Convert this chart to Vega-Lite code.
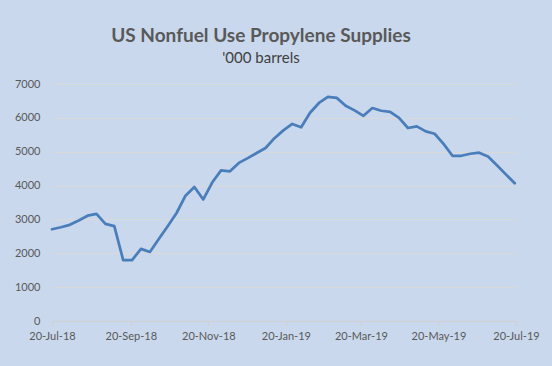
{
  "$schema": "https://vega.github.io/schema/vega-lite/v6.json",
  "width": 464,
  "height": 237,
  "autosize": {"type": "none"},
  "padding": {"left": 52, "top": 84, "right": 36, "bottom": 45},
  "background": "#c9d8ec",
  "title": {
    "text": "US Nonfuel Use Propylene Supplies",
    "subtitle": "'000 barrels",
    "anchor": "middle",
    "dx": -23,
    "offset": 12,
    "font": "Lato",
    "fontSize": 19,
    "fontWeight": "bold",
    "color": "#595959",
    "subtitleFont": "Lato",
    "subtitleFontSize": 15,
    "subtitleColor": "#404040",
    "subtitlePadding": 5
  },
  "data": {
    "values": [
      {"date": "2018-07-20", "v": 2710},
      {"date": "2018-07-27", "v": 2770},
      {"date": "2018-08-03", "v": 2840},
      {"date": "2018-08-10", "v": 2970},
      {"date": "2018-08-17", "v": 3110},
      {"date": "2018-08-24", "v": 3165},
      {"date": "2018-08-31", "v": 2870},
      {"date": "2018-09-07", "v": 2800},
      {"date": "2018-09-14", "v": 1800},
      {"date": "2018-09-21", "v": 1800},
      {"date": "2018-09-28", "v": 2130},
      {"date": "2018-10-05", "v": 2040},
      {"date": "2018-10-12", "v": 2420},
      {"date": "2018-10-19", "v": 2800},
      {"date": "2018-10-26", "v": 3190},
      {"date": "2018-11-02", "v": 3700},
      {"date": "2018-11-09", "v": 3960},
      {"date": "2018-11-16", "v": 3590},
      {"date": "2018-11-23", "v": 4090},
      {"date": "2018-11-30", "v": 4450},
      {"date": "2018-12-07", "v": 4420},
      {"date": "2018-12-14", "v": 4670},
      {"date": "2018-12-21", "v": 4810},
      {"date": "2018-12-28", "v": 4960},
      {"date": "2019-01-04", "v": 5110},
      {"date": "2019-01-11", "v": 5400},
      {"date": "2019-01-18", "v": 5630},
      {"date": "2019-01-25", "v": 5820},
      {"date": "2019-02-01", "v": 5720},
      {"date": "2019-02-08", "v": 6150},
      {"date": "2019-02-15", "v": 6440},
      {"date": "2019-02-22", "v": 6620},
      {"date": "2019-03-01", "v": 6590},
      {"date": "2019-03-08", "v": 6360},
      {"date": "2019-03-15", "v": 6220},
      {"date": "2019-03-22", "v": 6060},
      {"date": "2019-03-29", "v": 6290},
      {"date": "2019-04-05", "v": 6210},
      {"date": "2019-04-12", "v": 6180},
      {"date": "2019-04-19", "v": 6000},
      {"date": "2019-04-26", "v": 5700},
      {"date": "2019-05-03", "v": 5750},
      {"date": "2019-05-10", "v": 5600},
      {"date": "2019-05-17", "v": 5530},
      {"date": "2019-05-24", "v": 5230},
      {"date": "2019-05-31", "v": 4880},
      {"date": "2019-06-07", "v": 4880},
      {"date": "2019-06-14", "v": 4940},
      {"date": "2019-06-21", "v": 4970},
      {"date": "2019-06-28", "v": 4860},
      {"date": "2019-07-05", "v": 4600},
      {"date": "2019-07-12", "v": 4330},
      {"date": "2019-07-19", "v": 4070}
    ]
  },
  "mark": {"type": "line", "color": "#4a7ebb", "strokeWidth": 2.75, "strokeJoin": "round", "strokeCap": "round"},
  "encoding": {
    "x": {
      "field": "date",
      "type": "temporal",
      "scale": {"type": "utc", "domain": [1532044800000, 1563580800000]},
      "axis": {
        "title": null,
        "values": [1532044800000, 1537401600000, 1542672000000, 1547942400000, 1553040000000, 1558310400000, 1563580800000],
        "labelExpr": "utcFormat(datum.value, '%d-%b-%y')",
        "labelFlush": false,
        "labelBound": false,
        "grid": false,
        "domainColor": "#d0d0d0",
        "tickColor": "#d0d0d0",
        "tickSize": 5,
        "labelPadding": 4,
        "labelFont": "Lato",
        "labelFontSize": 11,
        "labelColor": "#595959",
        "labelOverlap": false
      }
    },
    "y": {
      "field": "v",
      "type": "quantitative",
      "scale": {"domain": [0, 7000], "nice": false},
      "axis": {
        "title": null,
        "values": [0, 1000, 2000, 3000, 4000, 5000, 6000, 7000],
        "format": "d",
        "grid": true,
        "gridColor": "#d9d9d9",
        "gridWidth": 1,
        "domain": false,
        "ticks": false,
        "labelPadding": 12,
        "labelFont": "Lato",
        "labelFontSize": 11,
        "labelColor": "#595959"
      }
    }
  },
  "config": {"view": {"stroke": null}}
}
